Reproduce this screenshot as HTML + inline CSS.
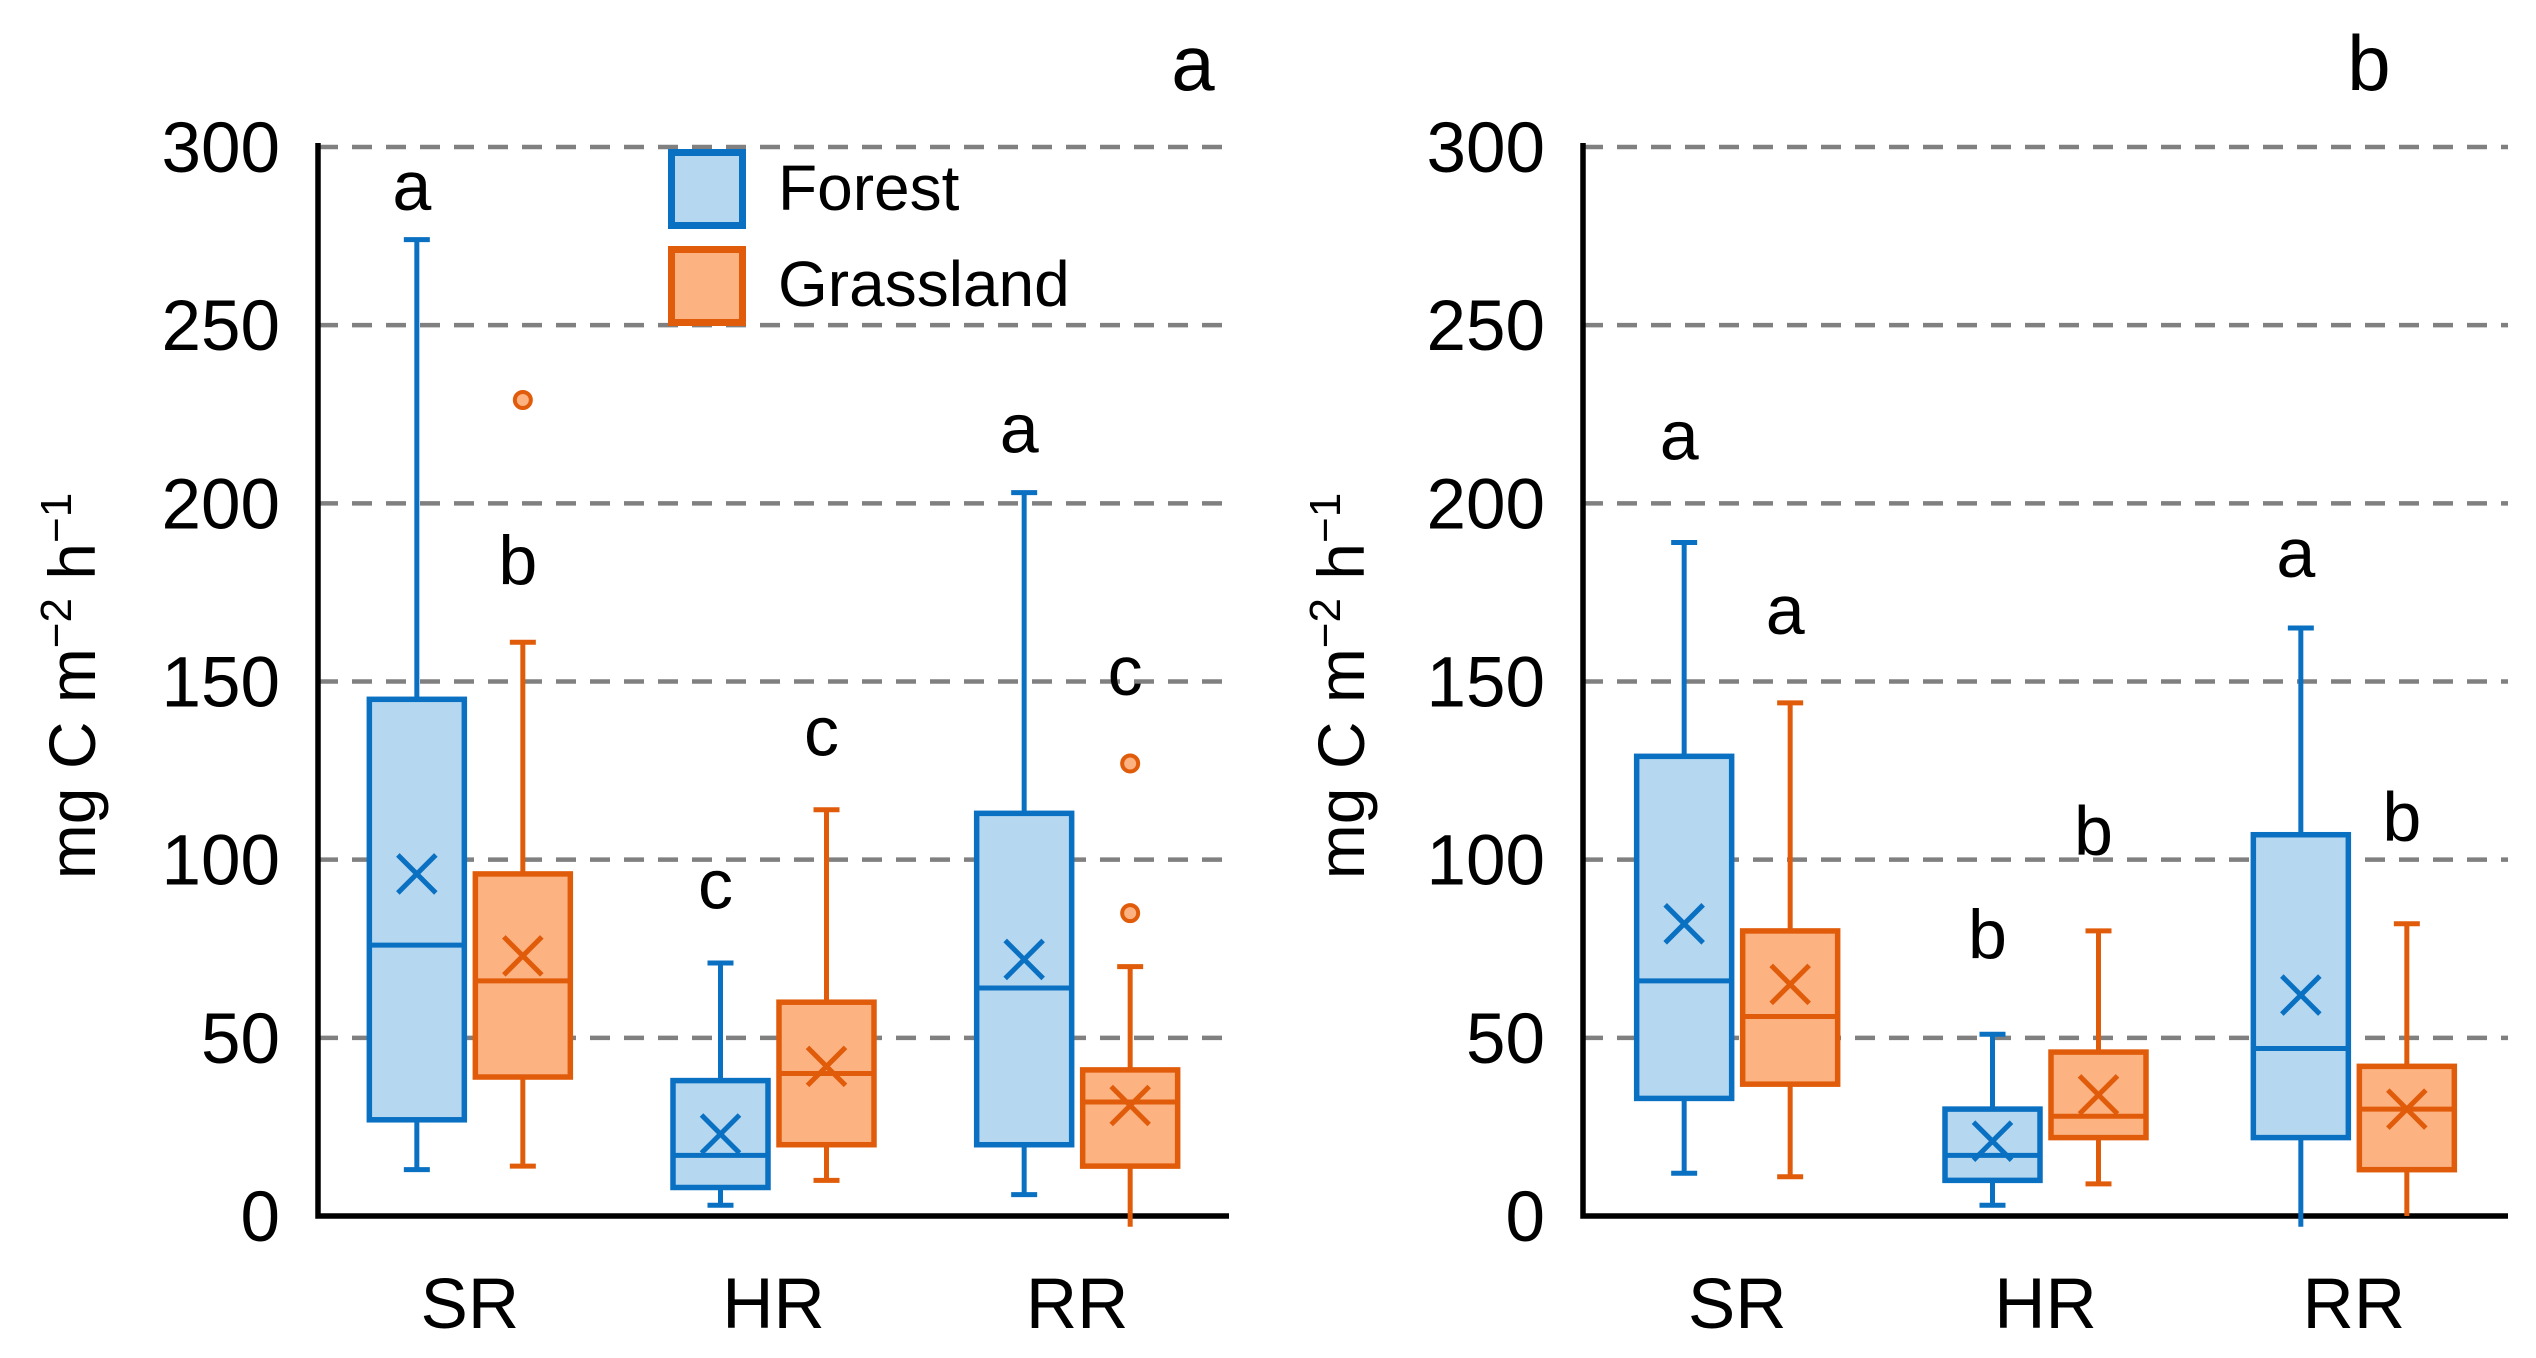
<!DOCTYPE html>
<html><head><meta charset="utf-8"><style>
html,body{margin:0;padding:0;background:#fff;}
svg{display:block;font-family:"Liberation Sans",Arial,sans-serif;}
</style></head><body>
<svg id="chart" width="2536" height="1358" viewBox="0 0 2536 1358" xmlns="http://www.w3.org/2000/svg"></svg>
<script>
const categories = ["SR","HR","RR"];
const yTicks = [0,50,100,150,200,250,300];
// panel a : [whiskerLow, q1, median, q3, whiskerHigh, mean]
const forestA = [[13,27,76,145,274,96],[3,8,17,38,71,23],[6,20,64,113,203,72]];
const grassA  = [[14,39,66,96,161,73],[10,20,40,60,114,42],[-3,14,32,41,70,31]];
const outliersForestA = [[],[],[]];
const outliersGrassA = [[229],[],[127,85]];
const lettersForestA = ["a","c","a"];
const lettersGrassA = ["b","c","c"];
const letterPosForestA = [289,93,221];
const letterPosGrassA = [184,136,153];
// panel b
const forestB = [[12,33,66,129,189,82],[3,10,17,30,51,21],[-3,22,47,107,165,62]];
const grassB  = [[11,37,56,80,144,65],[9,22,28,46,80,34],[0,13,30,42,82,30]];
const outliersForestB = [[],[],[]];
const outliersGrassB = [[],[],[]];
const lettersForestB = ["a","b","a"];
const lettersGrassB = ["a","b","b"];
const letterPosForestB = [219,79,186];
const letterPosGrassB = [170,108,112];

const NS="http://www.w3.org/2000/svg";
const svg=document.getElementById('chart');
function mk(tag,attrs,parent){const e=document.createElementNS(NS,tag);for(const k in attrs)e.setAttribute(k,attrs[k]);(parent||svg).appendChild(e);return e;}
const BLUE="#0a70c2",BLUEF="#b5d8f0",ORG="#e05c0a",ORGF="#fcb281";
const Y0=1216,Y300=147;
function yS(v){return Y0-(v/300)*(Y0-Y300);}

function panel(name,x0,x1,forest,grass,oF,oG,lF,lG,pF,pG,label,labelX,titleX){
  const g=mk('g',{});
  
  
  const w=x1-x0;
  function xS(i){return x0+(i+0.5)*w/3;}
  yTicks.forEach(t=>{
    if(t>0){const l=mk('line',{x1:x0,x2:x1,y1:yS(t),y2:yS(t),stroke:"#808080","stroke-width":4.5,"stroke-dasharray":"20 14"},g);
      
      }
    const tx=mk('text',{x:x0-38,y:yS(t)+25,"text-anchor":"end","font-size":71,fill:"#000"},g);
    tx.textContent=t;
    
    
  });
  const ax=mk('path',{d:`M${x0},${Y300-4} L${x0},${Y0} L${x1},${Y0}`,fill:"none",stroke:"#000","stroke-width":5.5},g);
  
  
  categories.forEach((c,i)=>{
    const t=mk('text',{x:xS(i),y:1328,"text-anchor":"middle","font-size":71,fill:"#000"},g);
    t.textContent=c;
    
    
  });
  function box(d,cx,col,fill,nm,outs,letter,lpos){
    const bg=mk('g',{},g);
    
    
    const bw=95,cw=26,sw=5;
    mk('line',{x1:cx,x2:cx,y1:yS(d[0]),y2:yS(d[1]),stroke:col,"stroke-width":sw},bg);
    mk('line',{x1:cx,x2:cx,y1:yS(d[3]),y2:yS(d[4]),stroke:col,"stroke-width":sw},bg);
    if(d[0]>0) mk('line',{x1:cx-cw/2,x2:cx+cw/2,y1:yS(d[0]),y2:yS(d[0]),stroke:col,"stroke-width":sw},bg);
    mk('line',{x1:cx-cw/2,x2:cx+cw/2,y1:yS(d[4]),y2:yS(d[4]),stroke:col,"stroke-width":sw},bg);
    mk('rect',{x:cx-bw/2,y:yS(d[3]),width:bw,height:yS(d[1])-yS(d[3]),fill:fill,stroke:col,"stroke-width":sw+0.5},bg);
    mk('line',{x1:cx-bw/2,x2:cx+bw/2,y1:yS(d[2]),y2:yS(d[2]),stroke:col,"stroke-width":sw},bg);
    const m=yS(d[5]),s=19;
    mk('path',{d:`M${cx-s},${m-s}L${cx+s},${m+s}M${cx+s},${m-s}L${cx-s},${m+s}`,stroke:col,"stroke-width":sw,fill:"none"},bg);
    outs.forEach(o=>{const c=mk('circle',{cx:cx,cy:yS(o),r:8,fill:fill,stroke:col,"stroke-width":4},bg);
      
      });
    const lt=mk('text',{x:cx-5,y:yS(lpos)+24,"text-anchor":"middle","font-size":70,fill:"#000"},g);
    lt.textContent=letter;
    
    
  }
  categories.forEach((c,i)=>{
    box(forest[i],xS(i)-53,BLUE,BLUEF,'forest-box-'+c.toLowerCase(),oF[i],lF[i],pF[i]);
    box(grass[i],xS(i)+53,ORG,ORGF,'grassland-box-'+c.toLowerCase(),oG[i],lG[i],pG[i]);
  });
  const pl=mk('text',{x:labelX,y:90,"text-anchor":"middle","font-size":78,fill:"#000"},g);
  pl.textContent=label;
  
  
  const yt=mk('text',{x:0,y:0,"text-anchor":"middle","font-size":66,fill:"#000",transform:`translate(${titleX},686) rotate(-90)`},g);
  yt.innerHTML='mg C m<tspan dy="-24" font-size="44">−2</tspan><tspan dy="24"> h</tspan><tspan dy="-24" font-size="44">−1</tspan>';
  
  
}
panel('a',318,1229,forestA,grassA,outliersForestA,outliersGrassA,lettersForestA,lettersGrassA,letterPosForestA,letterPosGrassA,'a',1193,95);
panel('b',1583,2508,forestB,grassB,outliersForestB,outliersGrassB,lettersForestB,lettersGrassB,letterPosForestB,letterPosGrassB,'b',2369,1364);

// legend
const lg=mk('g',{});


[["Forest",BLUE,BLUEF,149,210],["Grassland",ORG,ORGF,246,306]].forEach(r=>{
  const e=mk('g',{},lg);
  
  
  mk('rect',{x:671.5,y:r[3]+3.5,width:71,height:73,fill:r[2],stroke:r[1],"stroke-width":7},e);
  const t=mk('text',{x:778,y:r[4],"font-size":64,fill:"#000"},e);
  t.textContent=r[0];
});
</script>
</body></html>
